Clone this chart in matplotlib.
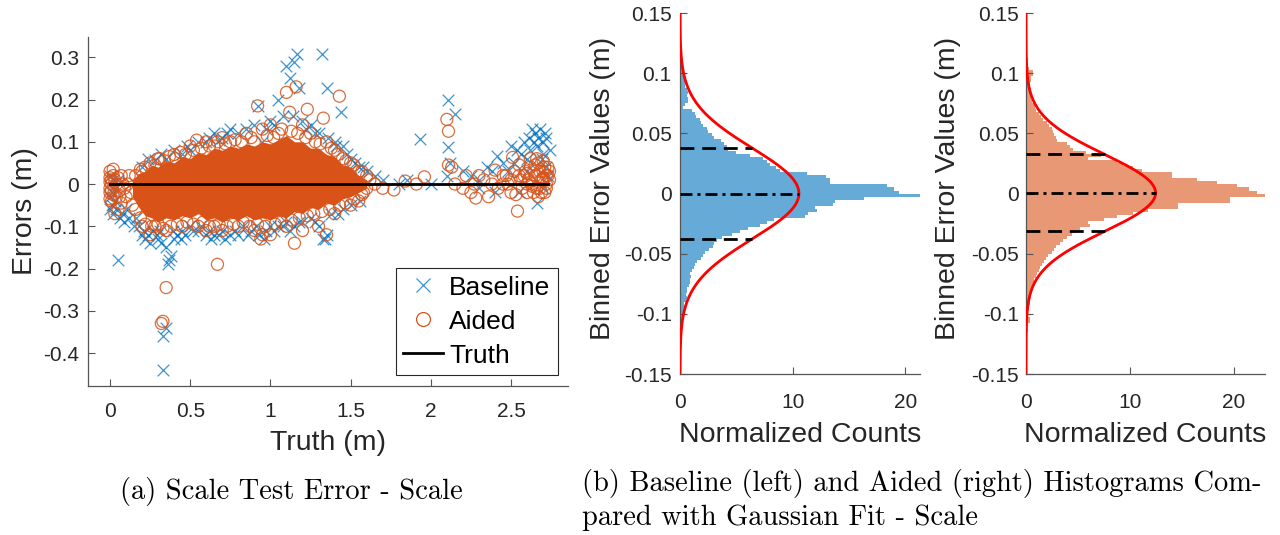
import numpy as np
import matplotlib
matplotlib.use('Agg')
import matplotlib.pyplot as plt
from matplotlib.lines import Line2D

plt.rcParams['font.family'] = ['Liberation Sans', 'DejaVu Sans']
plt.rcParams['axes.unicode_minus'] = False

# ---------------- data: scatter (Truth vs Error) ----------------
base_x = [0.0, 0.01, 0.02, 0.0, 0.03, 0.05, 0.08, 0.1, 0.12, 0.15, 0.05, 0.02,
          0.18, 0.2, 0.22, 0.25, 0.27, 0.3, 0.32, 0.35, 0.37, 0.38, 0.36, 0.33, 0.33, 0.35,
          0.4, 0.42, 0.45, 0.5, 0.55, 0.6, 0.63, 0.65, 0.7, 0.75, 0.8, 0.83, 0.88, 0.93,
          0.97, 1.0, 1.05, 1.1, 1.15, 1.2, 1.25, 1.3, 1.33, 1.35, 1.38, 1.45,
          0.28, 0.35, 0.45, 0.5, 0.6, 0.65, 0.7, 0.75, 0.8, 0.9, 0.92, 0.95, 1.0, 1.05,
          1.08, 1.1, 1.12, 1.166, 1.15, 1.18, 1.2, 1.25, 1.32, 1.35, 1.3, 1.4, 1.44, 1.45,
          1.5, 1.55, 1.6, 1.65, 1.7,
          1.93, 2.11, 2.15, 2.11, 2.12, 2.1, 2.2, 2.25, 2.3, 2.35, 2.38, 2.41, 2.45, 2.5,
          2.54, 2.58, 2.61, 2.63, 2.65, 2.68, 2.7, 2.72, 2.66, 2.69, 2.72, 2.6, 2.66, 2.55,
          2.4, 2.3, 2.73, 2.7, 1.8, 1.85, 2.0,
          0.2, 0.24, 0.32, 0.4, 0.48, 0.55, 0.62, 0.68, 0.73, 0.85, 0.97, 1.02, 1.14, 1.22,
          1.28, 1.36, 1.41, 1.48, 1.53, 1.58,
          0.16, 0.21, 0.24, 0.29, 0.31, 0.39, 0.44, 0.47, 0.52, 0.57, 0.62, 0.68, 0.72, 0.78,
          0.86, 0.91, 0.96, 1.02, 1.08, 1.12, 1.18, 1.28, 1.34, 1.42, 1.5, 1.56,
          0.0, 0.01, 0.04, 0.06, 0.09, 0.02,
          2.48, 2.52, 2.56, 2.62, 2.67, 2.71, 2.74, 2.64, 2.7, 2.6]
base_y = [-0.03, -0.05, -0.07, 0.02, -0.04, -0.18, -0.07, -0.06, -0.08, -0.1, 0.01, -0.01,
          -0.1, -0.12, -0.13, -0.14, -0.11, -0.13, -0.14, -0.15, -0.18, -0.17, -0.19, -0.44, -0.36, -0.34,
          -0.13, -0.12, -0.11, -0.1, -0.11, -0.12, -0.13, -0.12, -0.11, -0.12, -0.12, -0.1, -0.11, -0.12,
          -0.11, -0.1, -0.1, -0.09, -0.1, -0.09, -0.08, -0.1, -0.13, -0.12, -0.07, -0.06,
          0.057, 0.06, 0.07, 0.08, 0.1, 0.12, 0.11, 0.13, 0.12, 0.14, 0.185, 0.1, 0.15, 0.2,
          0.16, 0.28, 0.25, 0.307, 0.29, 0.227, 0.15, 0.14, 0.307, 0.227, 0.12, 0.1, 0.17, 0.09,
          0.06, 0.04, 0.03, 0.02, 0.01,
          0.106, 0.198, 0.165, 0.088, 0.05, 0.02, 0.03, 0.02, 0.01, 0.04, 0.03, 0.066, 0.05, 0.09,
          0.08, 0.1, 0.11, 0.13, 0.12, 0.13, 0.1, 0.11, 0.09, 0.06, 0.04, 0.03, -0.045, -0.02,
          -0.02, -0.01, 0.02, -0.01, 0.0, 0.01, 0.0,
          0.04, 0.06, 0.07, 0.08, 0.09, 0.1, 0.11, 0.105, 0.12, 0.13, 0.13, 0.14, 0.16, 0.13,
          0.12, 0.11, 0.09, 0.07, 0.05, 0.04,
          -0.08, -0.11, -0.12, -0.12, -0.11, -0.11, -0.13, -0.12, -0.11, -0.1, -0.11, -0.12, -0.13, -0.11,
          -0.12, -0.1, -0.13, -0.11, -0.1, -0.11, -0.09, -0.09, -0.13, -0.07, -0.05, -0.04,
          -0.06, -0.02, -0.06, -0.08, -0.09, 0.01,
          0.03, 0.05, 0.07, 0.08, 0.11, 0.12, 0.08, 0.1, 0.07, 0.06]

aided_x = [0.0, 0.02, 0.0, 0.01, 0.04, 0.05, 0.07, 0.09, 0.12, 0.14, 0.03, 0.0, 0.01, 0.06,
           0.32, 0.33, 0.35, 0.67,
           0.2, 0.25, 0.28, 0.35, 0.45, 0.55, 0.6, 0.65, 0.7, 0.8, 0.9, 0.94, 0.95, 1.0,
           1.1, 1.15, 1.2, 1.3, 1.35, 1.4, 1.5, 1.55,
           0.2, 0.3, 0.4, 0.5, 0.54, 0.6, 0.65, 0.7, 0.75, 0.85, 0.92, 0.95, 1.0, 1.05,
           1.10, 1.16, 1.12, 1.2, 1.23, 1.25, 1.33, 1.43, 1.35, 1.4, 1.45, 1.5, 1.55, 1.6,
           1.65, 1.7,
           1.77, 1.84, 1.91, 1.96, 2.10, 2.11, 2.11, 2.13, 2.15, 2.2, 2.25, 2.28, 2.3, 2.36,
           2.4, 2.42, 2.45, 2.5, 2.51, 2.53, 2.54, 2.56, 2.6, 2.62, 2.64, 2.65, 2.67, 2.68,
           2.7, 2.72, 2.73, 2.71, 2.66, 2.69, 2.58, 2.63, 2.7, 2.74, 2.6, 2.67, 2.72, 2.48,
           0.16, 0.19, 0.22, 0.25, 0.28, 0.31, 0.34, 0.37, 0.41, 0.44, 0.47, 0.52, 0.57, 0.62,
           0.67, 0.72, 0.78, 0.82, 0.88, 0.9, 0.98, 1.02, 1.07, 1.13, 1.17, 1.22, 1.28, 1.31,
           1.38, 1.42, 1.47, 1.52, 1.57, 1.62, 1.58,
           0.16, 0.19, 0.22, 0.26, 0.3, 0.33, 0.38, 0.42, 0.48, 0.52, 0.58, 0.62, 0.68, 0.73,
           0.77, 0.83, 0.87, 0.92, 0.97, 1.03, 1.07, 1.13, 1.18, 1.23, 1.27, 1.32, 1.37, 1.43,
           1.47, 1.52, 1.57, 1.6,
           0.0, 0.0, 0.01, 0.02, 0.03, 0.04, 0.01, 0.05, 0.06, 0.08, 0.1, 0.11, 0.13, 0.02,
           0.0, 0.07,
           2.45, 2.47, 2.5, 2.52, 2.55, 2.57, 2.59, 2.61, 2.63, 2.64, 2.66, 2.68, 2.69, 2.7,
           2.71, 2.72, 2.73, 2.74, 2.6, 2.55, 2.65, 2.7, 2.62, 2.38, 2.33, 2.27, 2.22]
aided_y = [0.03, 0.02, -0.02, -0.04, 0.0, -0.06, 0.02, -0.01, 0.02, -0.05, -0.07, 0.005, 0.01, -0.03,
           -0.33, -0.325, -0.245, -0.19,
           -0.1, -0.12, -0.1, -0.11, -0.1, -0.1, -0.11, -0.1, -0.11, -0.1, -0.11, -0.13, -0.12, -0.12,
           -0.1, -0.14, -0.11, -0.1, -0.12, -0.07, -0.05, -0.04,
           0.03, 0.06, 0.07, 0.09, 0.104, 0.1, 0.09, 0.11, 0.1, 0.12, 0.185, 0.13, 0.14, 0.12,
           0.217, 0.23, 0.17, 0.14, 0.177, 0.12, 0.156, 0.208, 0.1, 0.08, 0.06, 0.05, 0.03, 0.02,
           0.0, -0.01,
           -0.014, 0.007, 0.0, 0.017, 0.153, 0.125, 0.045, 0.04, 0.0, -0.01, -0.02, -0.033, 0.02, -0.03,
           0.033, -0.01, 0.02, -0.02, 0.063, -0.025, -0.064, 0.01, 0.0, 0.04, -0.02, 0.02, 0.05, -0.01,
           0.03, 0.0, 0.04, -0.02, 0.06, 0.01, 0.02, -0.005, 0.015, 0.01, 0.025, -0.03, 0.02, 0.0,
           0.02, 0.035, 0.04, 0.05, 0.045, 0.06, 0.055, 0.065, 0.06, 0.075, 0.07, 0.08, 0.085, 0.09,
           0.1, 0.095, 0.105, 0.1, 0.11, 0.1, 0.115, 0.11, 0.13, 0.125, 0.12, 0.11, 0.1, 0.095,
           0.085, 0.07, 0.055, 0.045, 0.03, 0.01, -0.02,
           -0.06, -0.08, -0.095, -0.1, -0.095, -0.105, -0.1, -0.095, -0.09, -0.095, -0.09, -0.1, -0.095, -0.1,
           -0.095, -0.09, -0.1, -0.095, -0.1, -0.095, -0.09, -0.085, -0.08, -0.075, -0.07, -0.065, -0.06, -0.05,
           -0.045, -0.035, -0.025, -0.01,
           0.015, -0.01, 0.0, -0.025, 0.01, -0.03, -0.015, 0.015, -0.015, 0.0, -0.03, 0.0, -0.02, 0.035,
           -0.035, -0.045,
           0.0, 0.02, 0.01, 0.03, 0.02, -0.01, 0.03, 0.01, 0.0, 0.03, -0.01, 0.03, -0.02, 0.01,
           0.04, -0.01, 0.02, 0.03, -0.02, 0.045, 0.045, 0.055, 0.06, 0.0, 0.01, 0.0, 0.02]

# dense core of the aided cloud (envelope)
core_x = [0.14, 0.18, 0.22, 0.26, 0.30, 0.35, 0.40, 0.45, 0.50, 0.55, 0.60, 0.65, 0.70, 0.75,
          0.80, 0.85, 0.90, 0.95, 1.00, 1.05, 1.10, 1.15, 1.20, 1.25, 1.30, 1.35, 1.40, 1.45,
          1.50, 1.55, 1.60]
core_hi = [0.01, 0.025, 0.03, 0.045, 0.04, 0.055, 0.05, 0.065, 0.06, 0.075, 0.07, 0.085, 0.08, 0.09,
           0.085, 0.095, 0.09, 0.1, 0.095, 0.105, 0.115, 0.1, 0.1, 0.085, 0.085, 0.07, 0.065, 0.045,
           0.04, 0.02, 0.01]
core_lo = [-0.03, -0.055, -0.075, -0.08, -0.09, -0.08, -0.085, -0.075, -0.08, -0.07, -0.085, -0.08,
           -0.09, -0.08, -0.085, -0.075, -0.085, -0.08, -0.085, -0.075, -0.08, -0.065, -0.07, -0.055,
           -0.06, -0.045, -0.05, -0.035, -0.03, -0.02, -0.01]

truth_x = [0.0, 2.73]
truth_y = [0.0, 0.0]

# ---------------- data: histograms ----------------
bin_width = 0.0025
bin_lo = -0.15
baseline_counts = [0, 0, 0, 0, 0, 0.05, 0.05, 0.1, 0.1, 0.1, 0.15, 0.15,
                   0.2, 0.15, 0.2, 0.25, 0.2, 0.3, 0.25, 0.3,
                   0.3, 0.35, 0.4, 0.35, 0.5,
                   0.6, 0.55, 0.65, 0.6,
                   0.8, 0.9, 0.85, 1.0, 0.9, 1.1,
                   1.2, 1.3, 1.5,
                   1.9, 2.0, 2.2, 2.6,
                   2.9, 3.0, 3.3,
                   3.7, 4.6,
                   5.3, 6.0,
                   7.1, 7.7,
                   8.3, 11.1, 11.4, 12.2, 12.0, 13.6, 13.8, 16.3, 21.3,
                   19.4, 19.0, 18.4, 13.3, 13.3, 13.0, 11.3, 8.9, 8.5, 8.0,
                   7.7, 7.4, 6.2, 5.0, 4.3, 4.2, 3.9, 3.6, 3.0, 2.8,
                   2.5, 2.4, 2.0, 1.9, 1.8, 1.4, 1.3, 1.1, 0.3, 0.4,
                   0.7, 0.7, 0.6, 0.7, 0.6, 0.45, 0.45, 0.4, 0.45, 0.4,
                   0.35, 0.2, 0.2, 0.15, 0.15, 0.15, 0.1, 0.1, 0.15, 0.1,
                   0.05, 0.1, 0.05, 0.05, 0, 0.05, 0, 0, 0, 0]
aided_counts = [0, 0, 0, 0, 0, 0, 0.05, 0, 0.05, 0.05, 0.1, 0.05,
                0.1, 0.1, 0.15, 0.1, 0.15, 0.4, 0.35, 0.2,
                0.2, 0.25, 0.3, 0.35, 0.4,
                0.45, 0.5, 0.6, 0.7,
                0.7, 0.75, 0.8, 1.0, 1.1, 1.2,
                1.3, 1.5, 1.7,
                1.9, 2.1, 2.5, 2.7,
                2.9, 3.3, 3.6,
                3.9, 4.4,
                4.8, 5.2,
                6.2, 6.0,
                7.5, 8.8, 10.3, 11.7, 14.6, 14.6, 19.6, 19.6, 23.0,
                22.2, 21.5, 20.3, 18.4, 16.5, 14.0, 14.0, 11.2, 10.3, 9.3,
                8.8, 6.0, 7.2, 5.8, 4.5, 4.2, 3.9, 3.0, 2.9, 2.7,
                2.6, 2.5, 2.2, 2.0, 1.6, 1.4, 1.2, 1.0, 0.9, 0.85,
                0.6, 0.5, 0.45, 0.4, 0.45, 0.4, 0.4, 0.45, 0.5, 0.7,
                0.7, 0.3, 0.2, 0.2, 0.15, 0.1, 0.1, 0.05, 0.1, 0.05,
                0.05, 0, 0.05, 0, 0, 0, 0, 0, 0, 0]

# Gaussian fit parameters (mean, std)
baseline_fit = (0.0, 0.0378)
aided_fit = (0.0005, 0.032)

# ---------------- styling ----------------
BLUE = '#0072BD'
ORANGE = '#D95319'
BLUE_H = (102 / 255, 170 / 255, 215 / 255)
ORANGE_H = (232 / 255, 152 / 255, 117 / 255)
AX_C = '#262626'
SPINE_C = '#555555'

fig = plt.figure(figsize=(12.8, 5.35), dpi=100)


def style_axes(ax, xpad, ypad):
    for s in ('top', 'right'):
        ax.spines[s].set_visible(False)
    for s in ('left', 'bottom'):
        ax.spines[s].set_color(SPINE_C)
        ax.spines[s].set_linewidth(0.9)
    ax.tick_params(direction='in', length=5, width=0.8, color=SPINE_C,
                   labelcolor=AX_C, labelsize=15)
    ax.tick_params(axis='x', pad=xpad)
    ax.tick_params(axis='y', pad=ypad)


# ---------- (a) scatter ----------
ax = fig.add_axes([0.06875, 0.2785, 0.375, 0.6523])
ax.scatter(base_x, base_y, marker='x', s=70, c=BLUE, alpha=0.75,
           linewidths=0.9, zorder=2)
ax.fill_between(core_x, core_lo, core_hi, color=ORANGE, lw=0, zorder=3)
ax.scatter(aided_x, aided_y, marker='o', s=75, facecolors='none',
           edgecolors=ORANGE, linewidths=0.9, alpha=0.85, zorder=4)
ax.plot(truth_x, truth_y, color='black', lw=2.0, zorder=5)
ax.set_xlim(-0.137, 2.855)
ax.set_ylim(-0.478, 0.348)
ax.set_xticks([0, 0.5, 1, 1.5, 2, 2.5])
ax.set_xticklabels(['0', '0.5', '1', '1.5', '2', '2.5'])
ax.set_yticks([-0.4, -0.3, -0.2, -0.1, 0, 0.1, 0.2, 0.3])
ax.set_yticklabels(['-0.4', '-0.3', '-0.2', '-0.1', '0', '0.1', '0.2', '0.3'])
style_axes(ax, 11.5, 6.5)
ax.set_xlabel('Truth (m)', fontsize=20.5, color=AX_C)
ax.set_ylabel('Errors (m)', fontsize=20.5, color=AX_C)
ax.xaxis.set_label_coords(0.5, -0.126)
ax.yaxis.set_label_coords(-0.104, 0.5)
leg_handles = [Line2D([], [], ls='none', marker='x', ms=10, mew=0.9, color=BLUE, alpha=0.75),
               Line2D([], [], ls='none', marker='o', ms=10, mew=0.9, mfc='none', mec=ORANGE),
               Line2D([], [], color='black', lw=2.0)]
leg = ax.legend(leg_handles, ['Baseline', 'Aided', 'Truth'], loc='lower right',
                bbox_to_anchor=(0.979, 0.0315), fontsize=19, frameon=True, fancybox=False,
                framealpha=1, edgecolor=AX_C, handlelength=1.5, handletextpad=0.25,
                labelspacing=0.38, borderpad=0.28, borderaxespad=0)
leg.get_frame().set_linewidth(0.8)

# ---------- (b) histograms ----------
centers = bin_lo + bin_width * (np.arange(len(baseline_counts)) + 0.5)
yy = np.linspace(-0.15, 0.15, 600)


def hist_panel(rect, counts, color, fit, xmax, xpad, ypad, lab_x):
    h = fig.add_axes(rect)
    h.barh(centers, counts, height=bin_width, color=color, edgecolor='none', zorder=1)
    mu, sig = fit
    pdf = np.exp(-0.5 * ((yy - mu) / sig) ** 2) / (sig * np.sqrt(2 * np.pi))
    h.plot(pdf, yy, color='red', lw=2.0, zorder=3)
    peak = 1.0 / (sig * np.sqrt(2 * np.pi))
    at_sig = peak * np.exp(-0.5)
    for yv in (mu + sig, mu - sig):
        h.plot([0, at_sig], [yv, yv], color='black', lw=2.0, dashes=(5.0, 2.8), zorder=4)
    h.plot([0, peak], [mu, mu], color='black', lw=2.0, dashes=(4.3, 1.8, 1.1, 1.8), zorder=4)
    h.set_ylim(-0.15, 0.15)
    h.set_xlim(0, xmax)
    h.set_yticks([-0.15, -0.1, -0.05, 0, 0.05, 0.1, 0.15])
    h.set_yticklabels(['-0.15', '-0.1', '-0.05', '0', '0.05', '0.1', '0.15'])
    h.set_xticks([0, 10, 20])
    h.set_xticklabels(['0', '10', '20'])
    style_axes(h, xpad, ypad)
    h.set_xlabel('Normalized Counts', fontsize=20.5, color=AX_C)
    h.set_ylabel('Binned Error Values (m)', fontsize=20.5, color=AX_C)
    h.xaxis.set_label_coords(0.5, -0.132)
    h.yaxis.set_label_coords(lab_x, 0.513)
    return h


hist_panel([0.53125, 0.3009, 0.1875, 0.6748], baseline_counts, BLUE_H, baseline_fit,
           21.3, 13.5, 6.0, -0.267)
hist_panel([0.8016, 0.3009, 0.1867, 0.6748], aided_counts, ORANGE_H, aided_fit,
           23.0, 13.5, 5.0, -0.272)

# ---------- captions ----------
cap_font = dict(family=['cmr10', 'DejaVu Serif'], fontsize=20.5, color='black')
fig.text(120 / 1280, 1 - 491 / 535, '(a) Scale Test Error - Scale', ha='left', va='center', **cap_font)
fig.text(582 / 1280, 1 - 483 / 535, '(b) Baseline (left) and Aided (right) Histograms Com-',
         ha='left', va='center', **cap_font)
fig.text(582 / 1280, 1 - 518 / 535, 'pared with Gaussian Fit - Scale', ha='left', va='center', **cap_font)

fig.savefig('out.png', dpi=100)
